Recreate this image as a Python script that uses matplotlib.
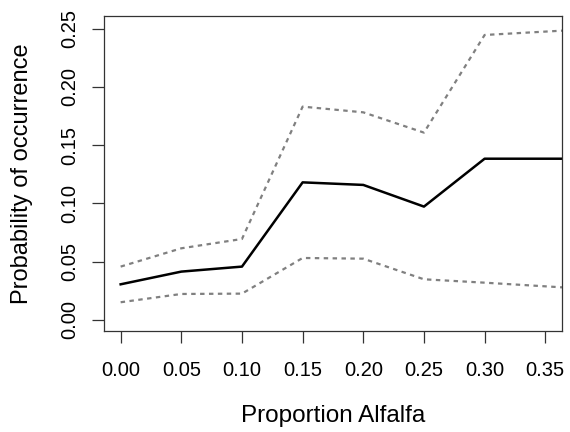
import matplotlib
matplotlib.use("Agg")
import matplotlib.pyplot as plt

plt.rcParams['font.family'] = ['Liberation Sans', 'DejaVu Sans']

# proportion alfalfa (last point is the max observed value)
alfalfa = [0.00, 0.05, 0.10, 0.15, 0.20, 0.25, 0.30, 0.3638]
prob_mean = [0.0306, 0.0415, 0.0458, 0.1181, 0.1159, 0.0973, 0.1384, 0.1384]
prob_upper = [0.0458, 0.0615, 0.0695, 0.1831, 0.1782, 0.1608, 0.2446, 0.2483]
prob_lower = [0.0152, 0.0223, 0.0226, 0.0532, 0.0526, 0.0349, 0.0320, 0.0280]

x_ticks = [0.00, 0.05, 0.10, 0.15, 0.20, 0.25, 0.30, 0.35]
y_ticks = [0.00, 0.05, 0.10, 0.15, 0.20, 0.25]

fig = plt.figure(figsize=(5.7, 4.32), dpi=100)
ax = fig.add_axes([0.1825, 0.234, 0.8035, 0.729])

ax.plot(alfalfa, prob_upper, color='#808080', lw=1.6, linestyle=(0, (2, 2)))
ax.plot(alfalfa, prob_lower, color='#808080', lw=1.6, linestyle=(0, (2, 2)))
ax.plot(alfalfa, prob_mean, color='black', lw=1.8)

ax.set_xlim(-0.0137, 0.3638)
ax.set_ylim(-0.0094, 0.2609)

ax.set_xticks(x_ticks)
ax.set_xticklabels([f'{v:.2f}' for v in x_ticks])
ax.set_yticks(y_ticks)
ax.set_yticklabels([f'{v:.2f}' for v in y_ticks], rotation=90, va='center')

ax.tick_params(axis='both', length=8.6, width=0.9, color='#333333',
               labelsize=14.5)
ax.tick_params(axis='x', pad=13)
ax.tick_params(axis='y', pad=9)
for s in ax.spines.values():
    s.set_linewidth(0.9)
    s.set_color('#333333')

ax.set_xlabel('Proportion Alfalfa', fontsize=17.5, labelpad=18)
ax.set_ylabel('Probability of occurrence', fontsize=17, labelpad=20)

fig.savefig('out.png', dpi=100)
